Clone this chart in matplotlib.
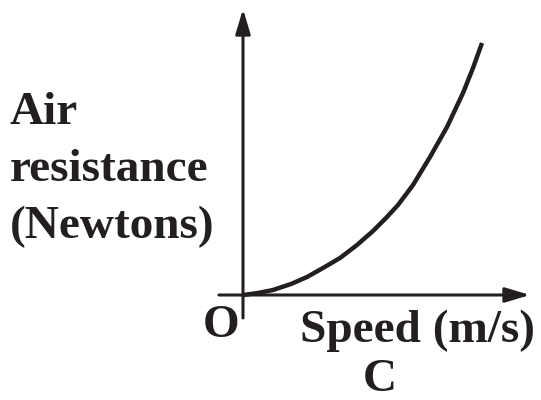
import matplotlib.pyplot as plt

# curve (arbitrary units, origin at O)
speed = [0, 15, 30, 48, 64, 80, 97, 114, 130, 143, 155, 170, 187, 204, 220, 230, 239]
resistance = [0, 2, 5, 11, 18, 27, 37, 50, 64, 77, 90, 110, 138, 168, 202, 227, 252]

y_label = ["Air", "resistance", "(Newtons)"]
x_label = "Speed (m/s)"
origin_label = "O"
caption = "C"

W, H = 541, 400
fig = plt.figure(figsize=(W / 100, H / 100), dpi=100)
ax = fig.add_axes([0, 0, 1, 1])
ax.set_xlim(-243, W - 243)
ax.set_ylim(-(H - 295), 295)
ax.axis("off")

ink = "#231f20"
font = dict(family="Liberation Serif", weight="bold", size=34, color=ink)

# axes with arrow heads
arrow = dict(arrowstyle="-|>,head_length=15,head_width=4.5", mutation_scale=1,
             color=ink, lw=2.2, shrinkA=0, shrinkB=0)
ax.annotate("", xy=(0, 286), xytext=(0, -23), arrowprops=arrow)
ax.annotate("", xy=(287, 0), xytext=(-24, 0), arrowprops=arrow)

# the curve
ax.plot(speed, resistance, color=ink, lw=3.2, solid_capstyle="butt",
        solid_joinstyle="round")

def label(s, px, py):
    fig.text(px / W, 1 - py / H, s, va="baseline", ha="left", **font)

for i, s in enumerate(y_label):
    label(s, 10, 124 + 57 * i)
label(origin_label, 203, 337)
label(x_label, 300, 342)
label(caption, 363, 391)

fig.savefig("out.png", dpi=100)
